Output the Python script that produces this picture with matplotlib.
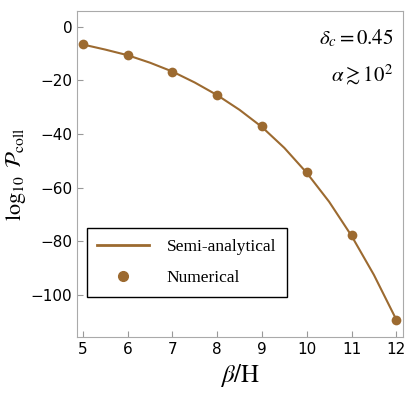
import matplotlib
matplotlib.use("Agg")
import matplotlib.pyplot as plt
from matplotlib.lines import Line2D

plt.rcParams['mathtext.fontset'] = 'stix'

beta_num = [5, 6, 7, 8, 9, 10, 11, 12]
logP_num = [-6.6, -10.6, -16.7, -25.5, -37.2, -54.3, -77.8, -109.3]
beta_curve = [5, 5.5, 6, 6.5, 7, 7.5, 8, 8.5, 9, 9.5, 10, 10.5, 11, 11.5, 12]
logP_curve = [-6.6, -8.5, -10.6, -13.4, -16.7, -20.8, -25.5, -31.0, -37.4, -45.2,
              -54.5, -65.3, -78.0, -92.6, -109.3]
xticks = [5, 6, 7, 8, 9, 10, 11, 12]
yticks = [0, -20, -40, -60, -80, -100]

col = '#9c6a30'
fig = plt.figure(figsize=(4.07, 4.07), dpi=100)
ax = fig.add_axes([77/407, 1-337/407, 326/407, 326/407])
ax.plot(beta_curve, logP_curve, color=col, lw=1.5)
ax.plot(beta_num, logP_num, 'o', color=col, ms=7, mec='none')
ax.set_xlim(4.87, 12.15)
ax.set_ylim(-115.8, 5.9)
ax.set_xticks(xticks)
ax.set_yticks(yticks)
ax.set_yticklabels(['0', '\u221220', '\u221240', '\u221260', '\u221280', '\u2212100'])
ax.tick_params(labelsize=11, direction='in', length=4, color='#999999')
for s in ax.spines.values():
    s.set_color('#aaaaaa')
ax.set_xlabel(r'$\beta/\mathrm{H}$', fontsize=18)
ax.set_ylabel(r'$\log_{10}\ \mathcal{P}_{\rm coll}$', fontsize=16, labelpad=2)
ax.text(0.97, 0.95, r'$\delta_c = 0.45$', transform=ax.transAxes, ha='right', va='top', fontsize=15)
ax.text(0.97, 0.84, r'$\alpha \gtrsim 10^2$', transform=ax.transAxes, ha='right', va='top', fontsize=15)
handles = [Line2D([], [], color=col, lw=2), Line2D([], [], marker='o', ls='none', color=col, ms=7)]
leg = ax.legend(handles, ['Semi-analytical', 'Numerical'], loc='lower left', bbox_to_anchor=(0.03, 0.123),
                prop={'family': 'Liberation Serif', 'size': 12.5}, fancybox=False, edgecolor='black',
                framealpha=1, borderpad=0.6, labelspacing=0.9, handlelength=3.0, handletextpad=1.0,
                borderaxespad=0)
leg.get_frame().set_linewidth(1.0)
fig.savefig('out.png', dpi=100)
